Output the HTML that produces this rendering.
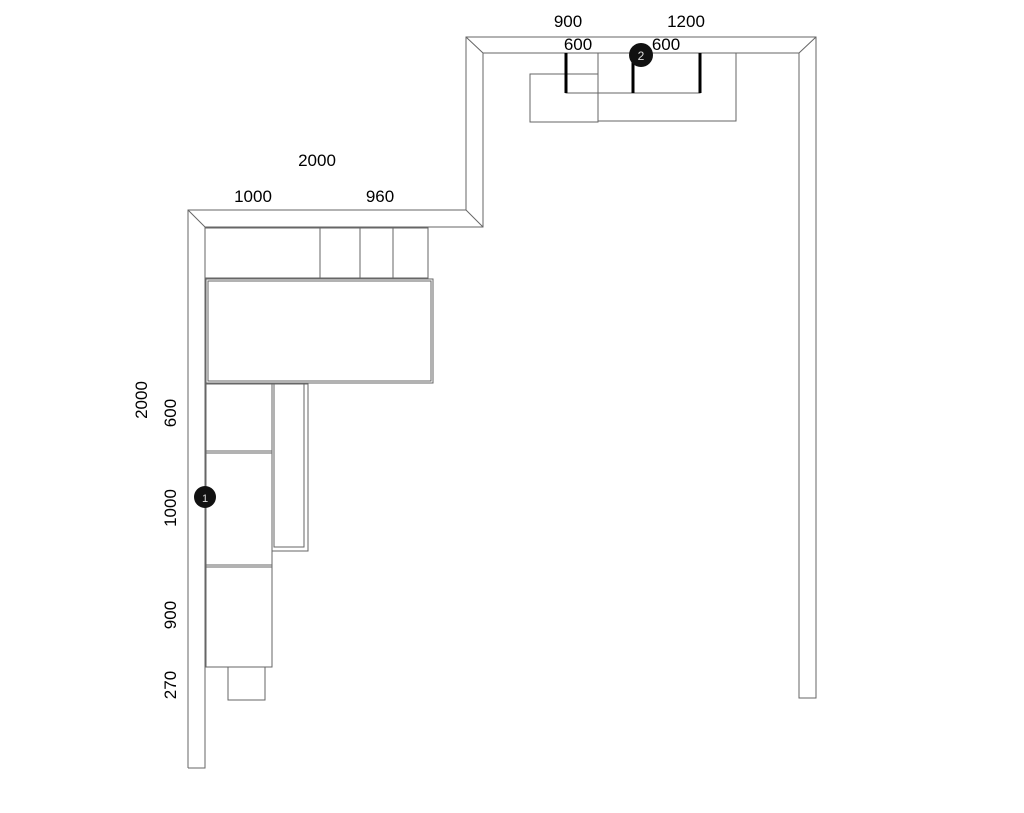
<!DOCTYPE html>
<html><head><style>html,body{margin:0;padding:0;background:#fff}</style></head><body>
<svg width="1024" height="808" viewBox="0 0 1024 808" xmlns="http://www.w3.org/2000/svg" font-family="Liberation Sans, sans-serif" font-size="17" fill="#000">
<g fill="none" stroke="#666" stroke-width="1">
<polyline points="188,768 188,210 466,210 466,37 816,37 816,698 799,698 799,53 483,53 483,227 205,227 205,768 188,768"/>
<line x1="188" y1="210" x2="205" y2="227"/>
<line x1="466" y1="210" x2="483" y2="227"/>
<line x1="466" y1="37" x2="483" y2="53"/>
<line x1="816" y1="37" x2="799" y2="53"/>
<rect x="205" y="228" width="115" height="50"/>
<rect x="320" y="228" width="40" height="50"/>
<rect x="360" y="228" width="33" height="50"/>
<rect x="393" y="228" width="35" height="50"/>
<rect x="206" y="279" width="227" height="104"/>
<rect x="208" y="281" width="223" height="100"/>
<rect x="272" y="384" width="36" height="167"/>
<rect x="274" y="384" width="30" height="163"/>
<rect x="206" y="384" width="66" height="67"/>
<rect x="206" y="451" width="66" height="114"/>
<rect x="206" y="565" width="66" height="102"/>
<line x1="206" y1="453" x2="272" y2="453"/>
<line x1="206" y1="567" x2="272" y2="567"/>
<rect x="228" y="667" width="37" height="33"/>
<rect x="530" y="74" width="68" height="48"/>
<rect x="598" y="53" width="138" height="68"/>
<rect x="566" y="53" width="134" height="40"/>
</g>
<g stroke="#000" stroke-width="3">
<line x1="566" y1="53" x2="566" y2="93"/>
<line x1="633" y1="53" x2="633" y2="93"/>
<line x1="700" y1="53" x2="700" y2="93"/>
</g>
<circle cx="641" cy="55" r="12" fill="#111"/>
<text x="641" y="60" font-size="12" fill="#ddd" text-anchor="middle">2</text>
<circle cx="205" cy="497" r="11" fill="#111"/>
<text x="205" y="502" font-size="11" fill="#ddd" text-anchor="middle">1</text>
<g text-anchor="middle">
<text x="317" y="166">2000</text>
<text x="253" y="202">1000</text>
<text x="380" y="202">960</text>
<text x="568" y="27">900</text>
<text x="686" y="27">1200</text>
<text x="578" y="50">600</text>
<text x="666" y="50">600</text>
<text transform="translate(147,400) rotate(-90)">2000</text>
<text transform="translate(176,413) rotate(-90)">600</text>
<text transform="translate(176,508) rotate(-90)">1000</text>
<text transform="translate(176,615) rotate(-90)">900</text>
<text transform="translate(176,685) rotate(-90)">270</text>
</g>
</svg>
</body></html>
